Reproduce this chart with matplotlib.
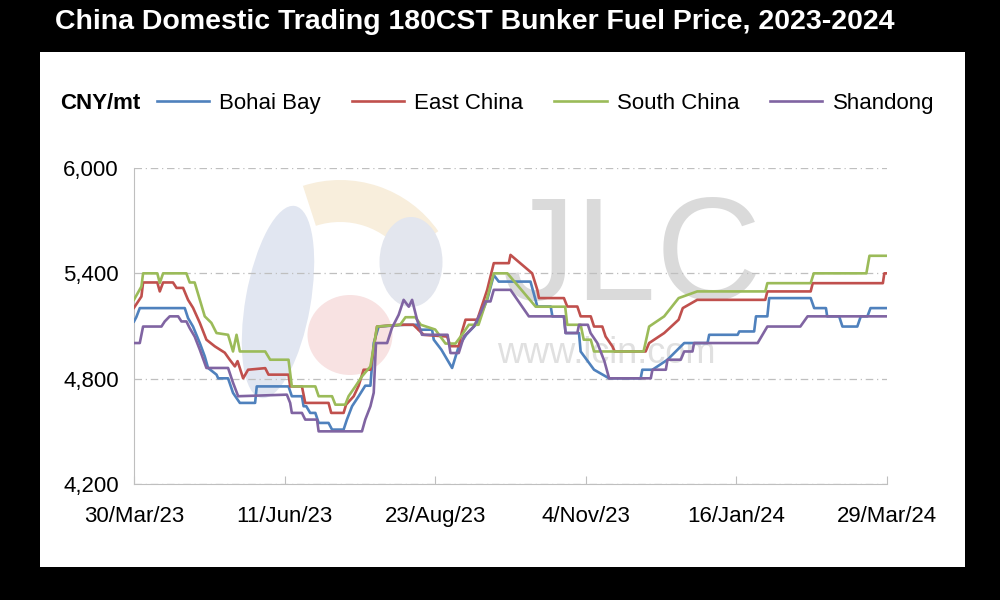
import matplotlib
matplotlib.use('Agg')
import matplotlib.pyplot as plt
import matplotlib.patches as mpatches
import numpy as np
import pandas as pd

plt.rcParams['font.family'] = ['Liberation Sans', 'DejaVu Sans']

BLUE   = '#4F81BD'
RED    = '#C0504D'
GREEN  = '#9BBB59'
PURPLE = '#8064A2'

START = pd.Timestamp('2023-03-30')

# day offsets from 30/Mar/23 and prices (CNY/mt)
bohai_days = [0, 1.1, 2.8, 24.6, 26.2, 28.6, 31.9, 34.3, 35.9, 40, 40.8, 45.6, 48, 51.3,
              58.7, 59.5, 74.9, 76.5, 81.4, 82.2, 83.5, 85.4, 87.9, 89.5, 94.3, 96, 101.6,
              103.2, 105.7, 108.9, 112.1, 114.6, 116.2, 118.6, 131, 137.2, 138, 144.5, 145.3,
              149, 154.2, 157.4, 161, 166.4, 171.2, 174.4, 176.8, 192.2, 195.5, 202, 202.8,
              208.4, 209.2, 215.7, 216.5, 223, 230.3, 245.6, 246.4, 251.3, 258.6, 266.7, 278,
              278.8, 292.6, 293.4, 300.6, 301.5, 307, 307.9, 328, 329.7, 335.4, 336, 341.8,
              343.4, 350.6, 352.3, 355.5, 357, 365]
bohai_vals = [5126, 5150, 5202, 5202, 5145, 5097, 5003, 4927, 4861, 4823, 4802, 4802, 4719, 4662,
              4662, 4756, 4756, 4700, 4700, 4643, 4643, 4605, 4605, 4548, 4548, 4510, 4510,
              4567, 4643, 4700, 4760, 4760, 5003, 5097, 5107, 5107, 5079, 5079, 5022,
              4965, 4861, 4984, 5050, 5117, 5249, 5390, 5353, 5353, 5211, 5211, 5155,
              5155, 5060, 5060, 4955, 4851, 4802, 4802, 4851, 4851, 4908, 5003, 5003,
              5050, 5050, 5069, 5069, 5155, 5155, 5259, 5259, 5202, 5202, 5155, 5155,
              5097, 5097, 5155, 5155, 5202, 5202]

east_days = [0, 3.6, 4.4, 11.3, 12.5, 14.1, 18.9, 20.6, 23.8, 26.2, 28.6, 31.9, 35.1, 39.2,
             44, 46.4, 48.9, 50.2, 52.9, 55.3, 63.6, 65.2, 74.9, 75.7, 81.4, 83, 94.3, 95.6,
             101.6, 102.8, 106.5, 108.9, 111.3, 114.6, 117.8, 129, 135.4, 140.4, 151.8, 153.4,
             157.4, 159, 160.7, 166.4, 168, 171.2, 174.4, 181.7, 182.5, 193, 195.5, 196.3,
             208.4, 210, 214.9, 216.5, 221.4, 223, 227, 228.6, 231.9, 233, 248, 249.7, 257,
             264, 266, 273, 306, 307, 328, 329, 363, 363.7, 365]
east_vals = [5204, 5268, 5348, 5348, 5297, 5348, 5348, 5317, 5317, 5249, 5204, 5118, 5022, 4984,
             4948, 4908, 4870, 4900, 4802, 4851, 4860, 4823, 4823, 4756, 4756, 4662, 4662, 4605,
             4605, 4652, 4700, 4760, 4851, 4851, 5097, 5107, 5107, 5050, 5040, 4985,
             4985, 5069, 5136, 5136, 5192, 5306, 5458, 5458, 5505, 5400, 5306, 5259,
             5259, 5211, 5211, 5155, 5155, 5097, 5097, 5040, 4984, 4955, 4955, 5003, 5060,
             5136, 5202, 5249, 5249, 5297, 5297, 5344, 5344, 5400, 5400]

south_days = [0, 3.6, 4.4, 11.3, 12.5, 14.1, 25.4, 27, 29.4, 34.3, 37.5, 40, 45.6, 48, 49.7,
              51.3, 63.6, 66, 74.9, 76.5, 87.9, 89.5, 96, 97.6, 102.4, 104, 107.3, 110.5,
              114.6, 117.8, 129, 131.6, 136.4, 139, 146, 151, 155.8, 159, 162.3, 167, 171,
              174.4, 181, 194.7, 209, 210, 216.5, 218, 221.4, 223, 247, 249.7, 257, 264, 273,
              306, 307, 328, 329.5, 355, 356.5, 365]
south_vals = [5250, 5325, 5400, 5400, 5345, 5400, 5400, 5348, 5348, 5155, 5118, 5060, 5050, 4955, 5050,
              4955, 4955, 4908, 4908, 4756, 4756, 4700, 4700, 4652, 4652, 4700, 4756, 4813,
              4870, 5097, 5107, 5150, 5150, 5107, 5080, 5000, 5000, 5050, 5107, 5107, 5250,
              5400, 5400, 5210, 5210, 5107, 5107, 5022, 5022, 4955, 4955, 5097, 5155, 5259, 5297,
              5297, 5344, 5344, 5400, 5400, 5500, 5500]

shandong_days = [0, 2.8, 4.4, 13.3, 14.9, 17.3, 21.4, 23, 25.4, 27, 29.4, 31.9, 35.1, 45.6,
                 48, 50.5, 74.1, 75.7, 76.5, 81.4, 83, 88.7, 89.5, 110.5, 112.1, 114.6, 116.2,
                 117.3, 122.7, 125, 128.3, 130.7, 133.2, 134.8, 137.2, 139.6, 152, 153.4, 157.4,
                 159.9, 164.7, 168, 170.4, 172.8, 174.4, 182.5, 191.4, 208.4, 209.2, 214.9,
                 215.7, 220, 221.3, 224.6, 228, 230.3, 250.5, 251.3, 257.8, 258.6, 265, 266.7,
                 270.7, 271.5, 302.3, 307, 323, 326.5, 365]
shandong_vals = [5003, 5003, 5097, 5097, 5126, 5155, 5155, 5126, 5126, 5088, 5040, 4965, 4861, 4861,
                 4777, 4700, 4709, 4662, 4605, 4605, 4567, 4567, 4500, 4500, 4567, 4643, 4720,
                 5003, 5003, 5088, 5164, 5249, 5210, 5249, 5136, 5050, 5050, 4946, 4946,
                 5040, 5097, 5175, 5240, 5240, 5306, 5306, 5155, 5155, 5060, 5060,
                 5107, 5107, 5060, 5003, 4900, 4802, 4802, 4851, 4851, 4908, 4908, 4955,
                 4955, 5003, 5003, 5097, 5097, 5155, 5155]

series = [('Bohai Bay', bohai_days, bohai_vals, BLUE),
          ('East China', east_days, east_vals, RED),
          ('South China', south_days, south_vals, GREEN),
          ('Shandong', shandong_days, shandong_vals, PURPLE)]

tick_dates = ['2023-03-30', '2023-06-11', '2023-08-23', '2023-11-04', '2024-01-16', '2024-03-29']
tick_labels = ['30/Mar/23', '11/Jun/23', '23/Aug/23', '4/Nov/23', '16/Jan/24', '29/Mar/24']
y_ticks = [4200, 4800, 5400, 6000]

fig = plt.figure(figsize=(10, 6), dpi=100, facecolor='black')
inch = fig.dpi_scale_trans
fig.add_artist(mpatches.Rectangle((0.04, 0.055), 0.925, 0.858, transform=fig.transFigure,
                                  facecolor='white', edgecolor='none', zorder=-10))

# faint JLC logo watermark (positions in inches from bottom-left)
fig.add_artist(mpatches.Ellipse((2.78, 2.98), 0.65, 1.95, angle=-10, transform=inch,
                                facecolor='#e1e6f1', edgecolor='none', zorder=-5))
fig.add_artist(mpatches.Wedge((3.4, 3.0), 1.2, 35, 108, width=0.42, transform=inch,
                              facecolor='#f8eedc', edgecolor='none', zorder=-5))
fig.add_artist(mpatches.Ellipse((3.5, 2.65), 0.85, 0.8, transform=inch,
                                facecolor='#f8e2e2', edgecolor='none', zorder=-5))
fig.add_artist(mpatches.Ellipse((4.11, 3.38), 0.63, 0.9, transform=inch,
                                facecolor='#e3e6ee', edgecolor='none', zorder=-5))
fig.text(0.503, 0.5, 'JLC', fontsize=105, color='#dadada', ha='left', va='baseline', zorder=-5)
fig.text(0.497, 0.395, 'www.lcin.com', fontsize=26, color='#e0e0e0', ha='left', va='baseline',
         zorder=-5)

ax = fig.add_axes([0.134, 0.1933, 0.753, 0.5267])
ax.set_facecolor('none')

for name, days, vals, color in series:
    dates = START + pd.to_timedelta(np.array(days), unit='D')
    ax.plot(dates, vals, color=color, lw=1.9, label=name, zorder=3)

ax.set_xlim(pd.Timestamp(tick_dates[0]), pd.Timestamp(tick_dates[-1]))
ax.set_ylim(4200, 6000)
ax.set_xticks(pd.to_datetime(tick_dates))
ax.set_xticklabels(tick_labels, fontsize=16)
ax.set_yticks(y_ticks)
ax.set_yticklabels([f'{v:,}' for v in y_ticks], fontsize=16)
ax.tick_params(axis='x', direction='in', length=6, color='#bfbfbf', pad=16)
ax.tick_params(axis='y', length=0, pad=11)

ax.grid(axis='y', color='#bfbfbf', linestyle=(0, (6, 3, 1, 3)), lw=0.9)
ax.spines['top'].set_visible(False)
ax.spines['right'].set_visible(False)
ax.spines['left'].set_color('#bfbfbf')
ax.spines['bottom'].set_color('#bfbfbf')

fig.text(0.055, 0.963, 'China Domestic Trading 180CST Bunker Fuel Price, 2023-2024',
         color='white', fontsize=20.5, fontweight='bold', va='center', ha='left')
fig.text(0.06, 0.828, 'CNY/mt', fontsize=16, fontweight='bold', va='center', ha='left')

fig.legend(loc='center left', bbox_to_anchor=(0.157, 0.828), bbox_transform=fig.transFigure,
           ncol=4, frameon=False, fontsize=16, handlelength=2.35, handletextpad=0.45,
           columnspacing=1.4, borderpad=0, borderaxespad=0)

plt.savefig('out.png', dpi=100, facecolor=fig.get_facecolor())
